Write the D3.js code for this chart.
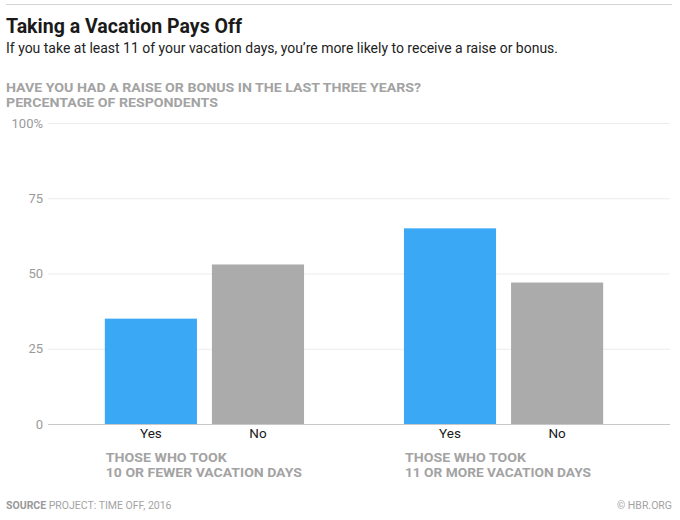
<!DOCTYPE html>
<html>
<head>
<meta charset="utf-8">
<script src="https://cdn.jsdelivr.net/npm/d3@7"></script>
<style>
  body { margin: 0; background: #fff; }
  text { font-family: Roboto, "Open Sans", sans-serif; }
</style>
</head>
<body>
<div id="chart-area"></div>
<script>
// data
var groups = ["THOSE WHO TOOK|10 OR FEWER VACATION DAYS", "THOSE WHO TOOK|11 OR MORE VACATION DAYS"];
var answers = ["Yes", "No"];
var yesValues = [35, 65];
var noValues = [53, 47];
var yTicks = [0, 25, 50, 75, 100];

var width = 680, height = 520;

var svg = d3.select("#chart-area")
  .append("svg")
  .attr("width", width)
  .attr("height", height);

// header
svg.append("line")
  .attr("x1", 6).attr("x2", 672)
  .attr("y1", 4.5).attr("y2", 4.5)
  .attr("stroke", "#d4d4d4");

svg.append("text")
  .attr("x", 6).attr("y", 33)
  .attr("font-size", 20).attr("font-weight", 700)
  .attr("fill", "#1a1a1a")
  .attr("textLength", 236).attr("lengthAdjust", "spacingAndGlyphs")
  .text("Taking a Vacation Pays Off");

svg.append("text")
  .attr("x", 6).attr("y", 53)
  .attr("font-size", 14.5)
  .attr("fill", "#222")
  .attr("textLength", 552).attr("lengthAdjust", "spacingAndGlyphs")
  .text("If you take at least 11 of your vacation days, you\u2019re more likely to receive a raise or bonus.");

svg.append("text")
  .attr("x", 6).attr("y", 92)
  .attr("font-size", 12.5).attr("font-weight", 700)
  .attr("fill", "#a3a3a3")
  .attr("textLength", 415).attr("lengthAdjust", "spacingAndGlyphs")
  .text("HAVE YOU HAD A RAISE OR BONUS IN THE LAST THREE YEARS?");

svg.append("text")
  .attr("x", 6).attr("y", 107)
  .attr("font-size", 12.5).attr("font-weight", 700)
  .attr("fill", "#a3a3a3")
  .attr("textLength", 212).attr("lengthAdjust", "spacingAndGlyphs")
  .text("PERCENTAGE OF RESPONDENTS");

// scales
var y = d3.scaleLinear()
  .domain([0, 100])
  .range([424, 123]);

var x0 = d3.scaleBand()
  .domain(groups)
  .range([48, 660])
  .paddingInner(0.334)
  .paddingOuter(0.19);

var x1 = d3.scaleBand()
  .domain(answers)
  .range([0, x0.bandwidth()])
  .paddingInner(0.14);

var color = d3.scaleOrdinal()
  .domain(answers)
  .range(["#3aa8f5", "#ababab"]);

// grid + y labels
var yAxis = svg.append("g")
  .attr("transform", "translate(48,0)")
  .call(d3.axisLeft(y)
    .tickValues(yTicks)
    .tickSize(-622)
    .tickPadding(5)
    .tickFormat((d) => d === 100 ? "100%" : d));

yAxis.select(".domain").remove();
yAxis.selectAll(".tick line")
  .attr("stroke", (d) => d === 0 ? "#c8c8c8" : "#ececec");
yAxis.selectAll(".tick text")
  .attr("font-size", 13)
  .attr("fill", "#9a9a9a")
  .attr("font-family", "Roboto, sans-serif");

// bars
var rows = groups.map((g, i) => ({ group: g, values: [
  { answer: "Yes", value: yesValues[i] },
  { answer: "No", value: noValues[i] }
] }));

var groupG = svg.selectAll(".group")
  .data(rows)
  .enter()
  .append("g")
  .attr("class", "group")
  .attr("transform", (d) => "translate(" + x0(d.group) + ",0)");

groupG.selectAll("rect")
  .data((d) => d.values)
  .enter()
  .append("rect")
  .attr("x", (d) => x1(d.answer))
  .attr("y", (d) => y(d.value))
  .attr("width", x1.bandwidth())
  .attr("height", (d) => y(0) - y(d.value))
  .attr("fill", (d) => color(d.answer));

groupG.selectAll(".answer")
  .data((d) => d.values)
  .enter()
  .append("text")
  .attr("class", "answer")
  .attr("x", (d) => x1(d.answer) + x1.bandwidth() / 2)
  .attr("y", 438)
  .attr("text-anchor", "middle")
  .attr("font-size", 13.5)
  .attr("fill", "#1a1a1a")
  .text((d) => d.answer);

var lineLengths = [[121, 196], [121, 186]];
groupG.each(function (d, i) {
  var lines = d.group.split("|");
  d3.select(this).selectAll(".glabel")
    .data(lines)
    .enter()
    .append("text")
    .attr("class", "glabel")
    .attr("x", 1)
    .attr("y", (l, j) => 462 + j * 15)
    .attr("font-size", 13)
    .attr("font-weight", 700)
    .attr("fill", "#a3a3a3")
    .attr("textLength", (l, j) => lineLengths[i][j])
    .attr("lengthAdjust", "spacingAndGlyphs")
    .text((l) => l);
});

// footer
var src = svg.append("text")
  .attr("x", 6).attr("y", 509)
  .attr("font-size", 10.5)
  .attr("fill", "#a3a3a3");
src.append("tspan").attr("font-weight", 700).attr("fill", "#999").text("SOURCE ");
src.append("tspan").text("PROJECT: TIME OFF, 2016");

svg.append("text")
  .attr("x", 672).attr("y", 509)
  .attr("text-anchor", "end")
  .attr("font-size", 10.5)
  .attr("fill", "#a3a3a3")
  .text("\u00a9 HBR.ORG");
</script>
</body>
</html>
